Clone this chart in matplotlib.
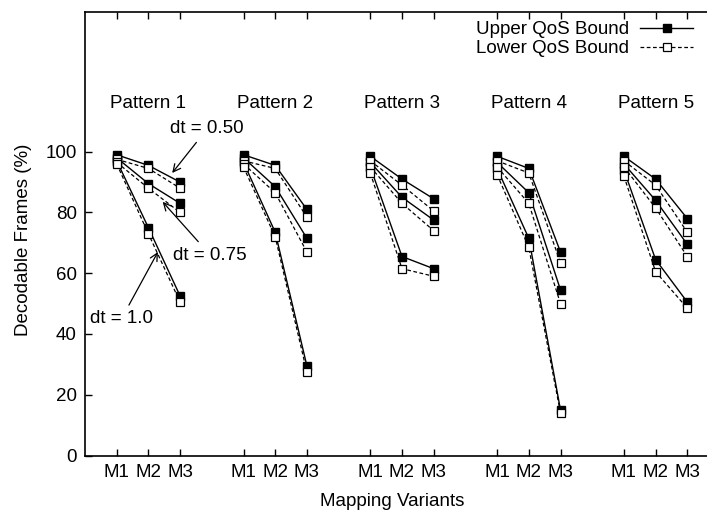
import numpy as np
import matplotlib
matplotlib.use("Agg")
import matplotlib.pyplot as plt

plt.rcParams["font.family"] = ["Liberation Sans", "DejaVu Sans"]

# Decodable frames (%) for each pattern, per dt, for M1/M2/M3
patterns = ["Pattern 1", "Pattern 2", "Pattern 3", "Pattern 4", "Pattern 5"]
variants = ["M1", "M2", "M3"]
dts = ["0.50", "0.75", "1.0"]

upper = {
    "0.50": [[99.0, 95.5, 90.0], [99.0, 95.5, 81.0], [98.5, 91.0, 84.5], [98.5, 94.5, 67.0], [98.5, 91.0, 78.0]],
    "0.75": [[98.0, 89.5, 83.0], [98.0, 88.5, 71.5], [96.5, 85.0, 77.5], [96.5, 86.5, 54.5], [96.0, 84.0, 69.5]],
    "1.0":  [[97.0, 75.0, 52.5], [96.5, 73.5, 29.5], [95.0, 65.5, 61.5], [94.5, 71.5, 15.0], [94.0, 64.5, 50.5]],
}
lower = {
    "0.50": [[97.5, 94.5, 88.0], [97.0, 94.5, 78.5], [97.0, 89.0, 80.5], [97.0, 93.0, 63.5], [97.0, 89.0, 73.5]],
    "0.75": [[96.5, 88.0, 80.0], [96.0, 86.5, 67.0], [95.0, 83.0, 74.0], [95.0, 83.0, 50.0], [95.0, 81.5, 65.5]],
    "1.0":  [[96.0, 73.0, 50.5], [95.0, 72.0, 27.5], [93.0, 61.5, 59.0], [92.5, 68.5, 14.0], [92.0, 60.5, 48.5]],
}

FS = 13.5

fig = plt.figure(figsize=(7.07, 5.16), dpi=100)
ax = fig.add_axes([85 / 707, 60.5 / 516, 634 / 707, 443.5 / 516])

for i, name in enumerate(patterns):
    x = 4 * i + np.arange(1, 4)
    for dt in dts:
        ax.plot(x, upper[dt][i], color="black", lw=1.0, marker="s", ms=5.8,
                mfc="black", mec="black", zorder=3)
        ax.plot(x, lower[dt][i], color="black", lw=0.9, ls=(0, (3, 2)), marker="s",
                ms=5.8, mfc="white", mec="black", mew=0.9, zorder=4)
    ax.text(4 * i + 2, 116, name, ha="center", va="center", fontsize=FS)

# annotations for the dt groups
arrow = dict(arrowstyle="->", color="black", lw=0.9, shrinkA=2, shrinkB=0)
ax.annotate("dt = 0.50", xy=(2.75, 93.0), xytext=(3.85, 107.5), ha="center",
            va="center", fontsize=FS, arrowprops=arrow)
ax.annotate("dt = 0.75", xy=(2.45, 83.5), xytext=(3.95, 66.0), ha="center",
            va="center", fontsize=FS, arrowprops=arrow)
ax.annotate("dt = 1.0", xy=(2.3, 67.0), xytext=(1.15, 45.0), ha="center",
            va="center", fontsize=FS, arrowprops=arrow)

ax.set_xlim(0, 20)
ax.set_ylim(0, 146)
xticks = [4 * i + j for i in range(len(patterns)) for j in range(1, 4)]
ax.set_xticks(xticks)
ax.set_xticklabels(variants * len(patterns), fontsize=FS)
ax.set_yticks(np.arange(0, 101, 20))
ax.tick_params(axis="y", labelsize=FS)
ax.tick_params(direction="in", length=5, width=1.0, top=True, right=True, pad=6)
for s in ax.spines.values():
    s.set_linewidth(1.2)

ax.set_ylabel("Decodable Frames (%)", fontsize=FS)
ax.yaxis.set_label_coords(32 / 707, 1 - 240 / 516, transform=fig.transFigure)
ax.set_xlabel("Mapping Variants", fontsize=FS)
ax.xaxis.set_label_coords(392 / 707, 1 - 493 / 516, transform=fig.transFigure)

ax.legend(["Upper QoS Bound", "Lower QoS Bound"], loc="upper right",
          bbox_to_anchor=(706 / 707, 1 - 8 / 516), bbox_transform=fig.transFigure,
          frameon=False, markerfirst=False, fontsize=FS, handlelength=2.8,
          handletextpad=0.6, labelspacing=0.1, borderpad=0.2)

fig.savefig("out.png", dpi=100)
